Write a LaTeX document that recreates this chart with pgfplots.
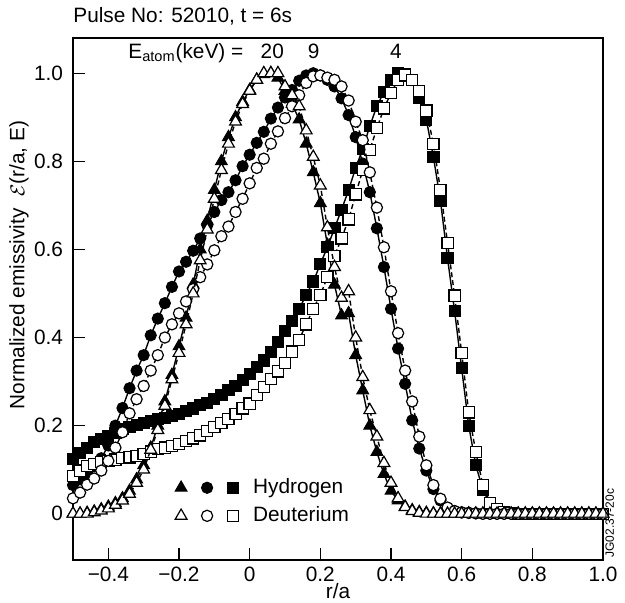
\documentclass[border=0pt]{standalone}
\usepackage{pgfplots}
\pgfplotsset{compat=1.18}
\usepackage{pgfplotstable}
\usepackage{fontspec}
\setmainfont{Liberation Sans}

\pgfplotstableread{
r h20 d20 h9 d9 h4 d4
-0.50 0.000 0.000 0.065 0.035 0.125 0.085
-0.48 0.000 0.000 0.078 0.048 0.137 0.098
-0.46 0.002 0.000 0.092 0.066 0.150 0.108
-0.44 0.005 0.003 0.108 0.080 0.162 0.113
-0.42 0.010 0.007 0.126 0.098 0.170 0.117
-0.40 0.016 0.012 0.155 0.120 0.176 0.120
-0.38 0.024 0.020 0.200 0.150 0.184 0.123
-0.36 0.035 0.030 0.240 0.185 0.192 0.126
-0.34 0.052 0.045 0.285 0.228 0.197 0.128
-0.32 0.078 0.070 0.325 0.260 0.202 0.131
-0.30 0.110 0.100 0.360 0.290 0.206 0.135
-0.28 0.150 0.145 0.405 0.325 0.210 0.141
-0.26 0.200 0.190 0.443 0.360 0.215 0.147
-0.24 0.255 0.245 0.478 0.400 0.218 0.150
-0.22 0.315 0.305 0.515 0.430 0.222 0.154
-0.20 0.380 0.365 0.550 0.455 0.227 0.159
-0.18 0.445 0.430 0.572 0.482 0.233 0.165
-0.16 0.520 0.500 0.597 0.510 0.239 0.171
-0.14 0.600 0.575 0.625 0.537 0.246 0.178
-0.12 0.665 0.645 0.655 0.566 0.252 0.188
-0.10 0.735 0.715 0.685 0.598 0.260 0.197
-0.08 0.800 0.780 0.712 0.630 0.270 0.206
-0.06 0.855 0.840 0.730 0.652 0.280 0.215
-0.04 0.900 0.890 0.757 0.685 0.290 0.226
-0.02 0.935 0.930 0.789 0.715 0.303 0.239
0.00 0.962 0.960 0.815 0.750 0.318 0.250
0.02 0.985 0.985 0.842 0.785 0.333 0.270
0.04 0.998 1.000 0.867 0.806 0.348 0.288
0.06 1.000 1.000 0.897 0.840 0.368 0.306
0.08 0.990 1.000 0.922 0.868 0.390 0.323
0.10 0.960 0.970 0.945 0.898 0.415 0.342
0.12 0.930 0.950 0.962 0.925 0.438 0.368
0.14 0.895 0.925 0.983 0.950 0.465 0.395
0.16 0.840 0.870 0.995 0.978 0.497 0.430
0.18 0.775 0.810 1.000 0.993 0.527 0.465
0.20 0.705 0.745 0.995 0.995 0.567 0.497
0.22 0.610 0.650 0.985 0.990 0.605 0.537
0.24 0.520 0.560 0.970 0.985 0.648 0.585
0.26 0.450 0.490 0.943 0.970 0.690 0.625
0.28 0.455 0.505 0.905 0.938 0.735 0.668
0.30 0.360 0.400 0.855 0.890 0.785 0.725
0.32 0.280 0.310 0.795 0.848 0.828 0.780
0.34 0.200 0.235 0.730 0.775 0.880 0.826
0.36 0.140 0.175 0.648 0.695 0.925 0.875
0.38 0.090 0.115 0.560 0.605 0.958 0.920
0.40 0.052 0.070 0.465 0.505 0.985 0.955
0.42 0.030 0.035 0.375 0.410 1.000 0.985
0.44 0.016 0.015 0.295 0.325 0.997 0.995
0.46 0.008 0.006 0.212 0.255 0.985 0.985
0.48 0.004 0.002 0.148 0.175 0.945 0.960
0.50 0.002 0.000 0.098 0.110 0.895 0.915
0.52 0.001 0.000 0.056 0.065 0.810 0.840
0.54 0.000 0.000 0.030 0.034 0.710 0.735
0.56 0.000 0.000 0.013 0.014 0.580 0.615
0.58 0.000 0.000 0.006 0.006 0.460 0.495
0.60 0.000 0.000 0.003 0.003 0.330 0.365
0.62 0.000 0.000 0.002 0.002 0.200 0.230
0.64 0.000 0.000 0.001 0.001 0.110 0.140
0.66 0.000 0.000 0.000 0.000 0.055 0.065
0.68 0.000 0.000 0.000 0.000 0.022 0.025
0.70 0.000 0.000 0.000 0.000 0.010 0.010
0.72 0.000 0.000 0.000 0.000 0.004 0.004
0.74 0.000 0.000 0.000 0.000 0.002 0.002
0.76 0.000 0.000 0.000 0.000 0.000 0.000
0.78 0.000 0.000 0.000 0.000 0.000 0.000
0.80 0.000 0.000 0.000 0.000 0.000 0.000
0.82 0.000 0.000 0.000 0.000 0.000 0.000
0.84 0.000 0.000 0.000 0.000 0.000 0.000
0.86 0.000 0.000 0.000 0.000 0.000 0.000
0.88 0.000 0.000 0.000 0.000 0.000 0.000
0.90 0.000 0.000 0.000 0.000 0.000 0.000
0.92 0.000 0.000 0.000 0.000 0.000 0.000
0.94 0.000 0.000 0.000 0.000 0.000 0.000
0.96 0.000 0.000 0.000 0.000 0.000 0.000
0.98 0.000 0.000 0.000 0.000 0.000 0.000
1.00 0.000 0.000 0.000 0.000 0.000 0.000
}\datatable

\tikzset{
  Hs/.style={solid, line width=0.7pt, black,
    mark options={solid, fill=black, draw=black, line width=0.5pt}},
  Ds/.style={dash pattern=on 2.5pt off 1.5pt, line width=0.7pt, black,
    mark options={solid, fill=white, draw=black, line width=0.6pt}},
  Tri/.style={mark=triangle*, mark size=3.4pt},
  Cir/.style={mark=*, mark size=2.8pt},
  Sqr/.style={mark=square*, mark size=2.8pt},
}
\newcommand{\fs}{\fontsize{10.4}{12.5}\selectfont}

\begin{document}
\begin{tikzpicture}
\begin{axis}[
  scale only axis, width=265pt, height=261pt,
  xmin=-0.5, xmax=1.0, ymin=-0.105, ymax=1.08,
  xtick={-0.4,-0.2,0,0.2,0.4,0.6,0.8,1.0},
  xticklabels={−0.4,−0.2,0,0.2,0.4,0.6,0.8,1.0},
  ytick={0,0.2,0.4,0.6,0.8,1.0},
  yticklabels={0,0.2,0.4,0.6,0.8,1.0},
  tick pos=left, tick align=inside, major tick length=6pt,
  tick style={line width=0.6pt, black},
  axis line style={line width=0.6pt, black},
  ticklabel style={font=\fs},
  yticklabel style={xshift=-1.5pt},
  xlabel={r/a},
  ylabel={Normalized emissivity \ $\mathcal{E}$(r/a, E)},
  label style={font=\fs},
  ylabel style={at={(axis description cs:-0.102,0.565)}, anchor=center},
  xlabel style={yshift=6pt},
  clip mode=individual,
  legend cell align=left,
  legend image code/.code={\draw[#1,only marks] plot coordinates {(0pt,0pt)}; \path[draw=none,fill=none] (-6pt,-3pt) rectangle (6pt,3pt);},
  legend columns=3,
  legend style={draw=none, fill=none, inner sep=0pt, outer sep=0pt, row sep=5pt,
    nodes={inner sep=0pt, font=\fs},
    at={(axis cs:-0.228,0.0795)}, anchor=north west},
]
\addlegendimage{Hs,Tri}\addlegendentry{}
\addlegendimage{Hs,Cir}\addlegendentry{}
\addlegendimage{Hs,Sqr}\addlegendentry{\hspace*{4pt}Hydrogen}
\addlegendimage{Ds,Tri}\addlegendentry{}
\addlegendimage{Ds,Cir}\addlegendentry{}
\addlegendimage{Ds,Sqr}\addlegendentry{\hspace*{4pt}Deuterium}

\addplot[Hs,Sqr,forget plot] table[x=r,y=h4] {\datatable};
\addplot[Hs,Cir,forget plot] table[x=r,y=h9] {\datatable};
\addplot[Hs,Tri,forget plot] table[x=r,y=h20] {\datatable};
\addplot[Ds,Sqr,forget plot] table[x=r,y=d4] {\datatable};
\addplot[Ds,Cir,forget plot] table[x=r,y=d9] {\datatable};
\addplot[Ds,Tri,forget plot] table[x=r,y=d20] {\datatable};

\node[anchor=base east, font=\fs, inner sep=0pt] at (axis cs:-0.017,1.034) {E\textsubscript{atom}(keV) =};
\node[anchor=base, font=\fs, inner sep=0pt] at (axis cs:0.064,1.034) {20};
\node[anchor=base, font=\fs, inner sep=0pt] at (axis cs:0.181,1.034) {9};
\node[anchor=base, font=\fs, inner sep=0pt] at (axis cs:0.414,1.034) {4};
\node[anchor=base west, font=\fs, inner sep=0pt, yshift=7.5pt] at (rel axis cs:0,1) {Pulse No: 52010, t = 6s};
\node[rotate=90, anchor=north west, font=\fontsize{6}{7}\selectfont, inner sep=1pt] at (rel axis cs:1,0) {JG02.37-20c};
\end{axis}
\pgfresetboundingbox
\path (current axis.south west) ++(-36.5pt,-21.5pt) rectangle ++(312.5pt,301.5pt);
\end{tikzpicture}
\end{document}
